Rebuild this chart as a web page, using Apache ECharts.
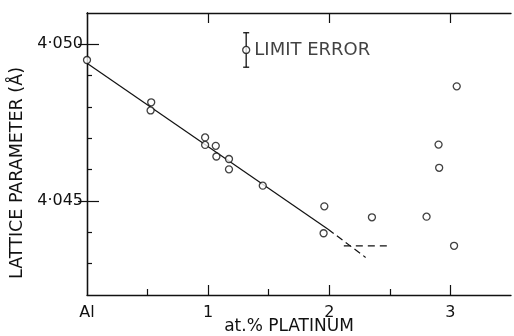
<!DOCTYPE html>
<html><head><meta charset="utf-8">
<script src="https://cdn.jsdelivr.net/npm/echarts@6/dist/echarts.min.js"></script>
<style>html,body{margin:0;padding:0;background:#fff}#c{width:514px;height:336px}</style>
</head><body><div id="c"></div>
<script>
// Measured points: at.% Pt vs lattice parameter (Å)
const ptX = [0, 0.530, 0.525, 0.975, 0.975, 1.063, 1.068, 1.172, 1.172, 1.451, 1.959, 1.953, 2.352, 3.052, 2.902, 2.907, 2.803, 3.030];
const latY = [4.0495, 4.04815, 4.04789, 4.04703, 4.04679, 4.04676, 4.04642, 4.04634, 4.04601, 4.04549, 4.04483, 4.04397, 4.04448, 4.04866, 4.04680, 4.04606, 4.04450, 4.04357];
// Fitted line (solid part, then dashed extrapolation)
const fitSolidX = [0, 1.99];
const fitSolidY = [4.0494, 4.0441];
const fitDashX = [1.99, 2.30];
const fitDashY = [4.0441, 4.0432];
// Horizontal dashed level
const levelX = [2.12, 2.48];
const levelY = [4.04357, 4.04357];
// Limit error indicator
const limitX = [1.314];
const limitY = [4.04982];
const limitErr = [0.00055];
// Axis ticks and labels
const xLabelValues = [0, 1, 2, 3];
const xLabelText = ['Al', '1', '2', '3'];
const xMajorTicks = [1, 2, 3];
const xMinorTicks = [0.5, 1.5, 2.5];
const yMajorTicks = [4.045, 4.050];
const yMinorTicks = [4.043, 4.044, 4.046, 4.047, 4.048, 4.049];

const FONT = 'DejaVu Sans';
const INK = '#111';
const zip = (a, b) => a.map((v, i) => [v, b[i]]);

const baseX = {type: 'value', min: 0, max: 3.5, splitLine: {show: false}};
const baseY = {type: 'value', min: 4.042, max: 4.051, splitLine: {show: false}};

const chart = echarts.init(document.getElementById('c'), null, {renderer: 'canvas'});
chart.setOption({
  animation: false,
  backgroundColor: '#fff',
  grid: {left: 87, top: 13, right: 3, bottom: 41, containLabel: false, outerBoundsMode: 'none'},
  xAxis: [
    Object.assign({}, baseX, {
      position: 'bottom',
      axisLine: {lineStyle: {color: INK, width: 1.3}},
      axisTick: {inside: true, length: 10, customValues: xMajorTicks, lineStyle: {color: INK, width: 1.2}},
      axisLabel: {customValues: xLabelValues, margin: 10, color: INK, fontFamily: FONT, fontSize: 16,
        formatter: v => { const i = xLabelValues.indexOf(Math.round(v)); return i >= 0 ? xLabelText[i] : ''; }},
      name: 'at.% PLATINUM', nameLocation: 'middle', nameGap: 23, nameMoveOverlap: false,
      nameTextStyle: {color: INK, fontFamily: FONT, fontSize: 17, padding: [0, 20, 0, 0]}
    }),
    Object.assign({}, baseX, {
      position: 'bottom',
      axisLine: {show: false},
      axisTick: {inside: true, length: 6, customValues: xMinorTicks, lineStyle: {color: INK, width: 1.2}},
      axisLabel: {show: false}
    }),
    Object.assign({}, baseX, {
      position: 'top',
      axisLine: {show: true, lineStyle: {color: INK, width: 1.3}},
      axisTick: {inside: true, length: 10, customValues: xMajorTicks, lineStyle: {color: INK, width: 1.2}},
      axisLabel: {show: false}
    })
  ],
  yAxis: [
    Object.assign({}, baseY, {
      position: 'left',
      axisLine: {show: true, lineStyle: {color: INK, width: 1.3}},
      axisTick: {show: true, inside: true, length: 12, customValues: yMajorTicks, lineStyle: {color: INK, width: 1.2}},
      axisLabel: {customValues: yMajorTicks, margin: 4, color: INK, fontFamily: FONT, fontSize: 16,
        formatter: v => v.toFixed(3).replace('.', '·')},
      name: 'LATTICE PARAMETER (Å)', nameLocation: 'middle', nameRotate: 90, nameGap: 58,
      nameTextStyle: {color: INK, fontFamily: FONT, fontSize: 17.5, padding: [0, 38, 0, 0]}
    }),
    Object.assign({}, baseY, {
      position: 'left',
      axisLine: {show: false},
      axisTick: {show: true, inside: true, length: 5, customValues: yMinorTicks, lineStyle: {color: INK, width: 1.2}},
      axisLabel: {show: false}
    }),
    Object.assign({}, baseY, {
      position: 'right',
      axisLine: {show: true, lineStyle: {color: INK, width: 1.3}},
      axisTick: {show: true, inside: true, length: 9, customValues: yMajorTicks, lineStyle: {color: INK, width: 1.2}},
      axisLabel: {show: false}
    })
  ],
  series: [
    {type: 'line', data: zip(fitSolidX, fitSolidY), symbol: 'none', z: 2,
      lineStyle: {color: INK, width: 1.2}},
    {type: 'line', data: zip(fitDashX, fitDashY), symbol: 'none', z: 2,
      lineStyle: {color: INK, width: 1.2, type: [7, 4]}},
    {type: 'line', data: zip(levelX, levelY), symbol: 'none', z: 2,
      lineStyle: {color: INK, width: 1.2, type: [7, 5]}},
    {type: 'custom', z: 3,
      data: limitX.map((x, i) => [x, limitY[i], limitErr[i]]),
      renderItem: (params, api) => {
        const x = api.value(0), y = api.value(1), e = api.value(2);
        const t = api.coord([x, y + e]), b = api.coord([x, y - e]);
        const w = 3, st = {stroke: INK, lineWidth: 1.3};
        return {type: 'group', children: [
          {type: 'line', shape: {x1: t[0], y1: t[1], x2: b[0], y2: b[1]}, style: st},
          {type: 'line', shape: {x1: t[0] - w, y1: t[1], x2: t[0] + w, y2: t[1]}, style: st},
          {type: 'line', shape: {x1: b[0] - w, y1: b[1], x2: b[0] + w, y2: b[1]}, style: st}
        ]};
      }},
    {type: 'scatter', data: zip(limitX, limitY), symbol: 'circle', symbolSize: 7, z: 4,
      itemStyle: {color: '#fff', borderColor: INK, borderWidth: 1.3},
      label: {show: true, position: 'right', distance: 4, formatter: 'LIMIT ERROR',
        color: INK, fontFamily: FONT, fontSize: 18}},
    {type: 'scatter', data: zip(ptX, latY), symbol: 'circle', symbolSize: 7, z: 4,
      itemStyle: {color: '#fff', borderColor: INK, borderWidth: 1.3}}
  ]
});
</script></body></html>
